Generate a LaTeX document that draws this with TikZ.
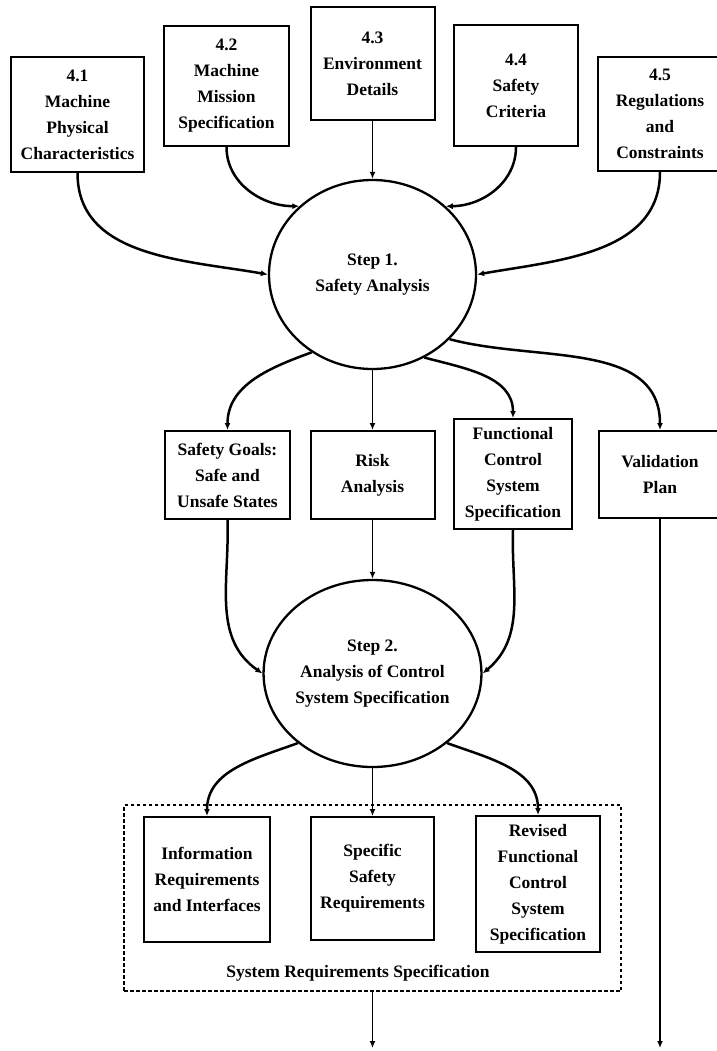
\documentclass[tikz,border=0pt]{standalone}
\usepackage{fontspec}
\setmainfont{Liberation Serif}
\usetikzlibrary{arrows.meta, shapes.geometric}

\begin{document}
\begin{tikzpicture}[
    x=1pt, y=-1pt,
    font={\bfseries\fontsize{17.5}{26}\selectfont},
    >={Latex[length=7pt, width=6pt]},
    % Styles
    infobox/.style={
        draw, line width=2pt, rectangle, align=center, inner sep=1pt
    },
    stepnode/.style={
        draw, line width=2.3pt, ellipse, align=center, inner sep=0pt
    },
    flow/.style={->, line width=2.5pt},
    link/.style={->, line width=1.5pt},
    group/.style={
        draw, line width=1.2pt, dash pattern=on 3.5pt off 2.5pt, rectangle, inner sep=0pt
    }
]
    \useasboundingbox (0,0) rectangle (716,1051);

    % --- INPUTS (SECTION 4) ---
    \node[infobox, minimum width=133pt, minimum height=115pt] (phys) at (77.5,114.5) {4.1\\ Machine\\ Physical\\ Characteristics};
    \node[infobox, minimum width=125pt, minimum height=120pt] (mission) at (226.5,86) {4.2\\ Machine\\ Mission\\ Specification};
    \node[infobox, minimum width=124pt, minimum height=113pt] (envir) at (372.5,63.5) {4.3\\ Environment\\ Details};
    \node[infobox, minimum width=124pt, minimum height=121pt] (criteria) at (516,85.5) {4.4\\ Safety\\ Criteria};
    \node[infobox, minimum width=124pt, minimum height=114pt] (regs) at (660,114) {4.5\\ Regulations\\ and\\ Constraints};

    % --- STEP 1 ---
    \node[stepnode, minimum width=207pt, minimum height=189pt] (step1) at (372.5,274.5) {Step 1.\\ Safety Analysis};

    % Results of step 1
    \node[infobox, minimum width=125pt, minimum height=88pt] (goals) at (227.5,475) {Safety Goals:\\ Safe and\\ Unsafe States};
    \node[infobox, minimum width=124pt, minimum height=88pt] (risk) at (372.5,475) {Risk\\ Analysis};
    \node[infobox, minimum width=118pt, minimum height=110pt] (funcspec) at (513,474) {Functional\\ Control\\ System\\ Specification};
    \node[infobox, minimum width=122pt, minimum height=87pt] (valid) at (660,474.5) {Validation\\ Plan};

    % --- STEP 2 ---
    \node[stepnode, minimum width=208pt, minimum height=187pt] (step2) at (372.5,673.5) {Step 2.\\ Analysis of Control\\ System Specification};

    % --- SYSTEM REQUIREMENTS ---
    \node[group, minimum width=497pt, minimum height=186pt] (sysreq) at (372.5,898) {};
    \node[infobox, minimum width=126pt, minimum height=125pt] (inforeq) at (207,879.5) {Information\\ Requirements\\ and Interfaces};
    \node[infobox, minimum width=123pt, minimum height=123pt] (safereq) at (372.5,878.5) {Specific\\ Safety\\ Requirements};
    \node[infobox, minimum width=124pt, minimum height=136pt] (revspec) at (538,884) {Revised\\ Functional\\ Control\\ System\\ Specification};
    \node (sysreqlabel) at (358,973) {System Requirements Specification};

    % Free ends
    \coordinate (reqout) at (372.5,1048);
    \coordinate (validout) at (660,1048);

    % --- CONNECTIONS ---
    % Into step 1
    \draw[flow] (phys.south) to[out=-90, in=170] (step1.west);
    \draw[flow] (mission.south) to[out=-90, in=180] (step1.137);
    \draw[link] (envir) -- (step1);
    \draw[flow] (criteria.south) to[out=-90, in=0] (step1.43);
    \draw[flow] (regs.south) to[out=-90, in=10] (step1.east);

    % Out of step 1
    \draw[flow] (step1.-128) to[out=200, in=90] (goals.north);
    \draw[link] (step1) -- (risk);
    \draw[flow] (step1.-58) to[out=-15, in=90] (funcspec.north);
    \draw[flow] (step1.-40) to[out=-15, in=90] (valid.north);

    % Into step 2
    \draw[flow] (goals.south) to[out=-88, in=145] (step2.west);
    \draw[link] (risk) -- (step2);
    \draw[flow] (funcspec.south) to[out=-92, in=40] (step2.east);

    % Out of step 2
    \draw[flow] (step2.-137) to[out=200, in=90] (inforeq.north);
    \draw[link] (step2) -- (safereq);
    \draw[flow] (step2.-43) to[out=-20, in=90] (revspec.north);

    % Outputs
    \draw[link] (sysreq.south) -- (reqout);
    \draw[link] (valid.south) -- (validout);

\end{tikzpicture}
\end{document}
